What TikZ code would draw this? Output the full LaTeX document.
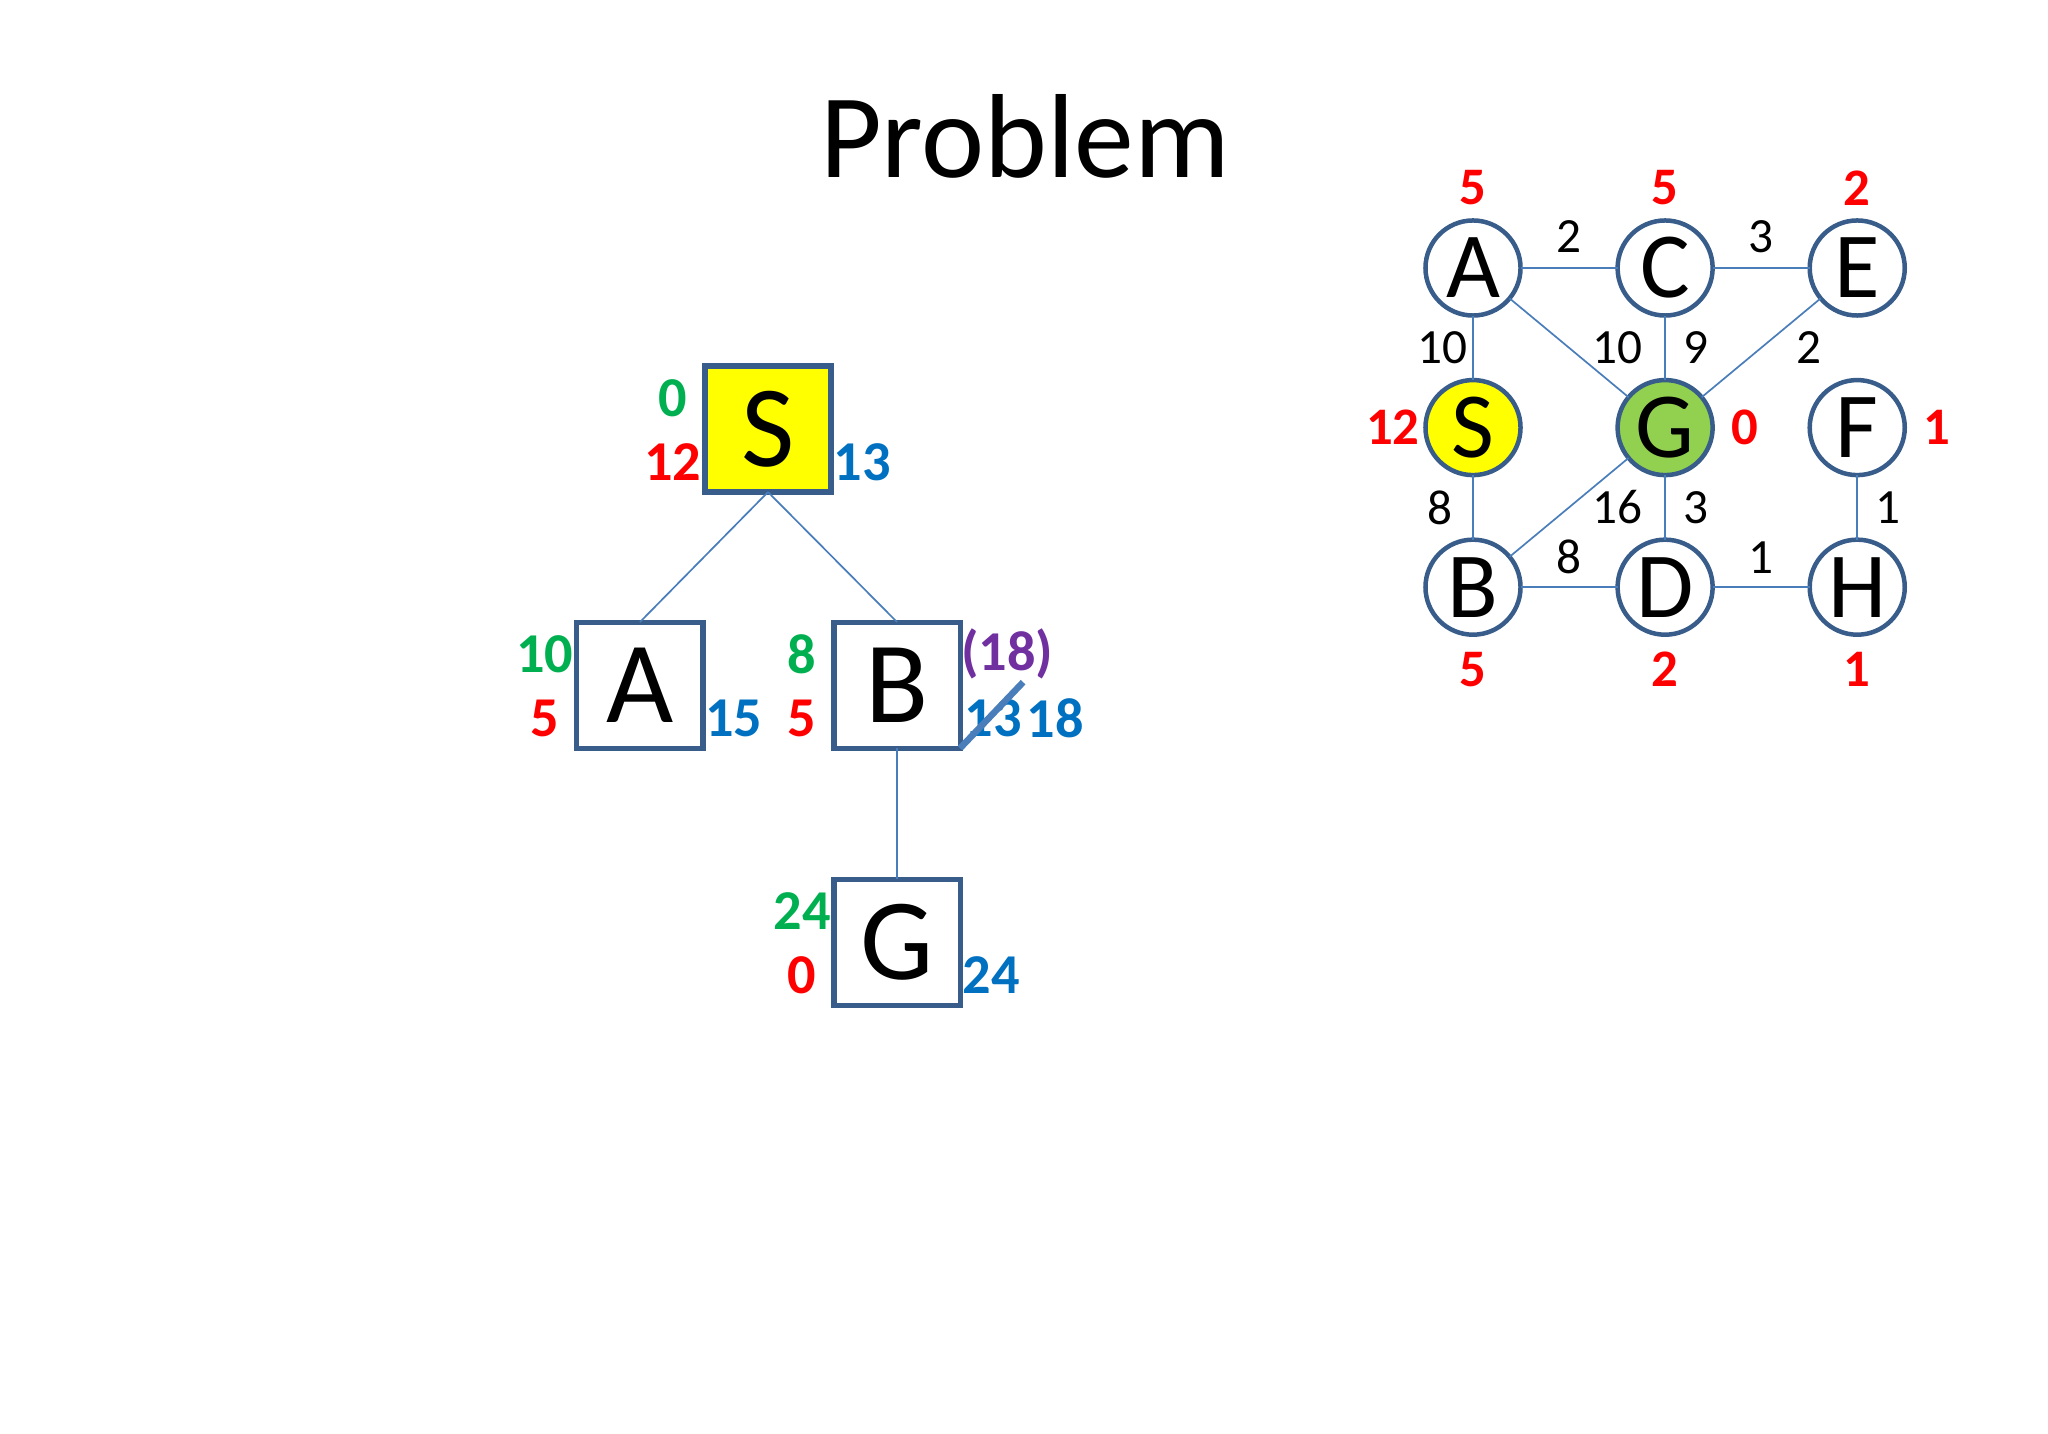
\documentclass[tikz,border=0pt]{standalone}
\usepackage{fontspec}
\setmainfont{Carlito}
\usetikzlibrary{positioning}

\definecolor{boxline}{HTML}{385D8A}
\definecolor{linkblue}{HTML}{4A7EBB}
\definecolor{cgreen}{HTML}{00B050}
\definecolor{cred}{HTML}{FF0000}
\definecolor{cblue}{HTML}{0070C0}
\definecolor{cpurple}{HTML}{7030A0}
\definecolor{goalgreen}{HTML}{92D050}
\definecolor{startyellow}{HTML}{FFFF00}

\begin{document}
\begin{tikzpicture}[
    x=0.01cm, y=-0.01cm,
    tbox/.style={
        draw=boxline,
        line width=0.052cm,
        minimum size=1.26cm,
        inner sep=0pt,
        outer sep=0pt,
        font=\fontsize{33}{40}\selectfont
    },
    gnode/.style={
        circle,
        draw=boxline,
        fill=white,
        line width=0.045cm,
        minimum size=0.95cm,
        inner sep=0pt,
        outer sep=0pt,
        font=\fontsize{26.5}{30}\selectfont
    },
    link/.style={draw=linkblue, line width=0.017cm},
    strike/.style={draw=linkblue, line width=0.065cm},
    num/.style={inner sep=0pt, font=\bfseries\fontsize{16}{19}\selectfont},
    gval/.style={num, text=cgreen},
    hval/.style={num, text=cred},
    fval/.style={num, text=cblue},
    oldval/.style={num, text=cpurple},
    hcost/.style={inner sep=0pt, text=cred, font=\bfseries\fontsize{15}{18}\selectfont},
    wt/.style={inner sep=0pt, font=\fontsize{14}{17}\selectfont},
    title/.style={font=\fontsize{34}{40}\selectfont}
]
\useasboundingbox (0,0) rectangle (2048,1434);
\fill[white] (0,0) rectangle (2048,1434);

% Title
\node[title, anchor=base] (title) at (1025,178) {Problem};

% Search tree
\node[tbox, fill=startyellow] (sbox) at (768,429) {S};
\node[tbox, below left=1.3cm and 0.02cm of sbox] (abox) {A};
\node[tbox, below right=1.3cm and 0.03cm of sbox] (bbox) {B};
\node[tbox, below=1.31cm of bbox] (gbox) {G};

\draw[link] (sbox.south) -- (abox.north);
\draw[link] (sbox.south) -- (bbox.north);
\draw[link] (bbox.south) -- (gbox.north);

% g / h / f values
\node[gval] (s_g) at ([shift={(-32,-31)}]sbox.west) {0};
\node[hval] (s_h) at ([shift={(-32,33)}]sbox.west) {12};
\node[fval] (s_f) at ([shift={(31,33)}]sbox.east) {13};

\node[gval] (a_g) at ([shift={(-32,-31)}]abox.west) {10};
\node[hval] (a_h) at ([shift={(-32,33)}]abox.west) {5};
\node[fval] (a_f) at ([shift={(31,33)}]abox.east) {15};

\node[gval] (b_g) at ([shift={(-32,-31)}]bbox.west) {8};
\node[hval] (b_h) at ([shift={(-32,33)}]bbox.west) {5};
\node[oldval] (b_old) at ([shift={(47,-31)}]bbox.east) {(18)};
\node[fval] (b_f) at ([shift={(33,33)}]bbox.east) {13};
\node[fval] (b_fnew) at ([shift={(95,33)}]bbox.east) {18};
\coordinate (b_cut) at ([shift={(63,-66)}]bbox.south east);
\draw[strike] (bbox.south east) -- (b_cut);

\node[gval] (g_g) at ([shift={(-32,-31)}]gbox.west) {24};
\node[hval] (g_h) at ([shift={(-32,33)}]gbox.west) {0};
\node[fval] (g_f) at ([shift={(31,33)}]gbox.east) {24};

% Graph
\node[gnode] (gA) at (1473,268) {A};
\node[gnode, right=0.97cm of gA] (gC) {C};
\node[gnode, right=0.97cm of gC] (gE) {E};
\node[gnode, below=0.645cm of gA, fill=startyellow] (gS) {S};
\node[gnode, below=0.645cm of gC, fill=goalgreen] (gG) {G};
\node[gnode, below=0.645cm of gE] (gF) {F};
\node[gnode, below=0.645cm of gS] (gB) {B};
\node[gnode, below=0.645cm of gG] (gD) {D};
\node[gnode, below=0.645cm of gF] (gH) {H};

\draw[link] (gA) -- node[wt, yshift=0.31cm] {2} (gC);
\draw[link] (gC) -- node[wt, yshift=0.31cm] {3} (gE);
\draw[link] (gA) -- node[wt, xshift=-0.31cm] {10} (gS);
\draw[link] (gA) -- node[wt, xshift=0.48cm] {10} (gG);
\draw[link] (gC) -- node[wt, xshift=0.31cm] {9} (gG);
\draw[link] (gE) -- node[wt, xshift=0.48cm] {2} (gG);
\draw[link] (gS) -- node[wt, xshift=-0.33cm] {8} (gB);
\draw[link] (gG) -- node[wt, xshift=0.48cm] {16} (gB);
\draw[link] (gG) -- node[wt, xshift=0.31cm] {3} (gD);
\draw[link] (gF) -- node[wt, xshift=0.31cm] {1} (gH);
\draw[link] (gB) -- node[wt, yshift=0.3cm] {8} (gD);
\draw[link] (gD) -- node[wt, yshift=0.3cm] {1} (gH);

% heuristic values
\node[hcost] (hA) at ([yshift=0.8cm]gA) {5};
\node[hcost] (hC) at ([yshift=0.8cm]gC) {5};
\node[hcost] (hE) at ([yshift=0.8cm]gE) {2};
\node[hcost] (hS) at ([xshift=-0.8cm]gS) {12};
\node[hcost] (hG) at ([xshift=0.8cm]gG) {0};
\node[hcost] (hF) at ([xshift=0.8cm]gF) {1};
\node[hcost] (hB) at ([yshift=-0.82cm]gB) {5};
\node[hcost] (hD) at ([yshift=-0.82cm]gD) {2};
\node[hcost] (hH) at ([yshift=-0.82cm]gH) {1};

\end{tikzpicture}
\end{document}
